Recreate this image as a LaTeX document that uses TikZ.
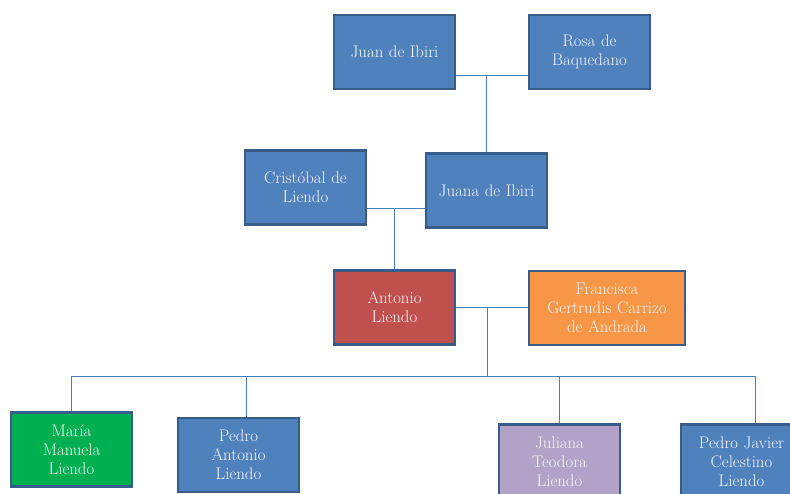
\documentclass[tikz,border=0pt]{standalone}
\usepackage{fontspec}
\begin{document}
\begin{tikzpicture}[x=1pt,y=-1pt,
  pbox/.style={draw=bordblue,line width=2.5pt,minimum width=121pt,minimum height=74pt,
    inner sep=2pt,align=center,text=textcol,font=\fontsize{16.8}{19}\selectfont,text width=116pt},
  conn/.style={draw=linecol,line width=1pt}]
\definecolor{bordblue}{HTML}{385D8A}
\definecolor{fblue}{HTML}{4F81BD}
\definecolor{fred}{HTML}{C0504D}
\definecolor{forange}{HTML}{F79646}
\definecolor{fgreen}{HTML}{00B050}
\definecolor{fpurple}{HTML}{B3A2C7}
\definecolor{linecol}{HTML}{4A7EBB}
\definecolor{textcol}{HTML}{F4F6FA}
\useasboundingbox (0,0) rectangle (790,494);
% connector junctions
\coordinate (m1) at (486,76);
\coordinate (m2) at (394,209);
\coordinate (m3) at (487,308);
\coordinate (bar) at (487,376);
\coordinate (barL) at (71,376);
\coordinate (barR) at (755,376);
\coordinate (barA) at (246,376);
\coordinate (barJ) at (559,376);
% nodes
\node[pbox,fill=fblue] (juan) at (394.5,52) {Juan de Ibiri};
\node[pbox,fill=fblue] (rosa) at (589.5,52) {Rosa de\\Baquedano};
\node[pbox,fill=fblue] (cris) at (305.5,187.5) {Cristóbal de\\Liendo};
\node[pbox,fill=fblue] (juana) at (486.5,190.5) {Juana de Ibiri};
\node[pbox,fill=fred] (antonio) at (394.5,307.5) {Antonio\\Liendo};
\node[pbox,fill=forange,minimum width=155pt,text width=152pt] (fran) at (607,308) {Francisca\\Gertrudis Carrizo\\de Andrada};
\node[pbox,fill=fgreen] (maria) at (71.5,449.5) {María\\Manuela\\Liendo};
\node[pbox,fill=fblue] (pedroa) at (238.5,455) {Pedro\\Antonio\\Liendo};
\node[pbox,fill=fpurple] (juliana) at (559.5,461.5) {Juliana\\Teodora\\Liendo};
\node[pbox,fill=fblue] (pedroj) at (741.5,461.5) {Pedro Javier\\Celestino\\Liendo};
% lines
\draw[conn] (juan.east|-m1) -- (rosa.west|-m1);
\draw[conn] (m1) -- (juana.north-|m1);
\draw[conn] (cris.east|-m2) -- (juana.west|-m2);
\draw[conn] (m2) -- (antonio.north-|m2);
\draw[conn] (antonio.east|-m3) -- (fran.west|-m3);
\draw[conn] (m3) -- (bar);
\draw[conn] (barL) -- (barR);
\draw[conn] (barL) -- (maria.north-|barL);
\draw[conn] (barA) -- (pedroa.north-|barA);
\draw[conn] (barJ) -- (juliana.north-|barJ);
\draw[conn] (barR) -- (pedroj.north-|barR);
\end{tikzpicture}
\end{document}
